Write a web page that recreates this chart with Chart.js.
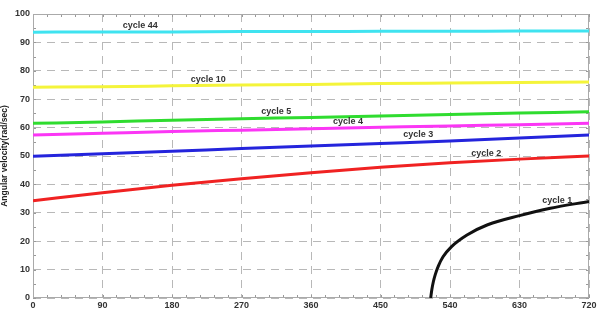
<!DOCTYPE html>
<html>
<head>
<meta charset="utf-8">
<script src="https://cdn.jsdelivr.net/npm/chart.js@4"></script>
<style>
html,body{margin:0;padding:0;background:#fff;}
#wrap{width:599px;height:312px;position:relative;}
</style>
</head>
<body>
<div id="wrap"><canvas id="c"></canvas></div>
<script>
const angles = [0, 90, 180, 270, 360, 450, 540, 630, 720];
const cycle44 = [93.6, 93.7, 93.7, 93.8, 93.8, 93.9, 93.9, 94.0, 94.0];
const cycle10 = [74.2, 74.4, 74.7, 75.0, 75.2, 75.5, 75.7, 75.9, 76.1];
const cycle5  = [61.5, 62.0, 62.6, 63.1, 63.6, 64.1, 64.6, 65.1, 65.6];
const cycle4  = [57.4, 58.0, 58.6, 59.1, 59.6, 60.1, 60.6, 61.0, 61.5];
const cycle3  = [49.9, 50.8, 51.7, 52.6, 53.5, 54.4, 55.3, 56.3, 57.4];
const cycle2  = [34.2, 37.1, 39.7, 42.0, 44.1, 46.0, 47.6, 48.9, 50.0];
const cycle1Angles = [515, 516.5, 518.5, 521, 525, 531, 542, 562, 588, 630, 670, 720];
const cycle1  = [0, 3.0, 5.8, 8.3, 11.3, 14.5, 18.1, 22.2, 25.7, 29.0, 31.6, 34.0];
const labelTexts = ["cycle 44", "cycle 10", "cycle 5", "cycle 4", "cycle 3", "cycle 2", "cycle 1"];
const labelX = [139, 227, 315, 408, 499, 587, 679];
const labelY = [95.8, 77.1, 65.8, 62.0, 57.4, 51.0, 34.5];
const xTicks = [0, 90, 180, 270, 360, 450, 540, 630, 720];

function pts(xs, ys){ return xs.map((x,i)=>({x:x, y:ys[i]})); }

const series = [
  {label:"cycle 44", data:pts(angles, cycle44), color:"#3fe3f0"},
  {label:"cycle 10", data:pts(angles, cycle10), color:"#f4f43a"},
  {label:"cycle 5",  data:pts(angles, cycle5),  color:"#2fdc2f"},
  {label:"cycle 4",  data:pts(angles, cycle4),  color:"#fb36f5"},
  {label:"cycle 3",  data:pts(angles, cycle3),  color:"#2424dc"},
  {label:"cycle 2",  data:pts(angles, cycle2),  color:"#f02222"},
  {label:"cycle 1",  data:pts(cycle1Angles, cycle1), color:"#111111"}
];

const FONT = "'Liberation Sans', Arial, sans-serif";

const labelPlugin = {
  id:'curveLabels',
  afterDatasetsDraw(chart){
    const ctx = chart.ctx, xs = chart.scales.x, ys = chart.scales.y;
    ctx.save();
    ctx.font = "bold 9px " + FONT;
    ctx.fillStyle = "#333";
    ctx.textAlign = "center";
    ctx.textBaseline = "middle";
    labelTexts.forEach((t,i)=>{
      ctx.fillText(t, xs.getPixelForValue(labelX[i]), ys.getPixelForValue(labelY[i]));
    });
    ctx.restore();
  }
};

const minorTicks = {
  id:'minorTicks',
  beforeDatasetsDraw(chart){
    const ctx = chart.ctx, xs = chart.scales.x, ys = chart.scales.y, a = chart.chartArea;
    ctx.save();
    ctx.strokeStyle = "#999";
    ctx.lineWidth = 1;
    ctx.beginPath();
    for(let v=0; v<=720; v+=18){
      const px = Math.round(xs.getPixelForValue(v))+0.5;
      ctx.moveTo(px, a.top); ctx.lineTo(px, a.top+3);
      ctx.moveTo(px, a.bottom); ctx.lineTo(px, a.bottom-3);
    }
    for(let v=0; v<=100; v+=5){
      const py = Math.round(ys.getPixelForValue(v))+0.5;
      ctx.moveTo(a.left, py); ctx.lineTo(a.left+3, py);
      ctx.moveTo(a.right, py); ctx.lineTo(a.right-3, py);
    }
    ctx.stroke();
    ctx.strokeStyle = "#aaa";
    ctx.strokeRect(Math.round(a.left)+0.5, Math.round(a.top)+0.5, Math.round(a.right-a.left)-1, Math.round(a.bottom-a.top)-1);
    ctx.restore();
  }
};

new Chart(document.getElementById('c'), {
  type:'line',
  data:{
    datasets: series.map(s=>({
      label:s.label, data:s.data, borderColor:s.color, backgroundColor:s.color,
      borderWidth:3, pointRadius:0, cubicInterpolationMode:'monotone', fill:false
    }))
  },
  options:{
    responsive:true, maintainAspectRatio:false, animation:false,
    layout:{padding:{top:14, right:10, left:0, bottom:0}},
    plugins:{legend:{display:false}, tooltip:{enabled:false}},
    scales:{
      x:{
        type:'linear', min:0, max:720,
        afterBuildTicks(scale){ scale.ticks = xTicks.map(v=>({value:v})); },
        afterFit(scale){ scale.height = 14; },
        grid:{color:"#b8b8b8", lineWidth:1, drawTicks:false, tickLength:0},
        border:{display:false, dash:[8,6]},
        ticks:{padding:2, color:"#333", font:{family:FONT, size:9, weight:'bold'}, maxRotation:0, autoSkip:false}
      },
      y:{
        min:0, max:100,
        afterFit(scale){ scale.width = 33; },
        grid:{color:"#b8b8b8", lineWidth:1, drawTicks:false, tickLength:0},
        border:{display:false, dash:[8,6]},
        ticks:{stepSize:10, padding:3, color:"#333", font:{family:FONT, size:9, weight:'bold'}},
        title:{display:true, text:"Angular velocity(rad/sec)", color:"#222", padding:{top:0,bottom:1}, font:{family:FONT, size:8.5, weight:'bold'}}
      }
    }
  },
  plugins:[labelPlugin, minorTicks]
});
</script>
</body>
</html>
